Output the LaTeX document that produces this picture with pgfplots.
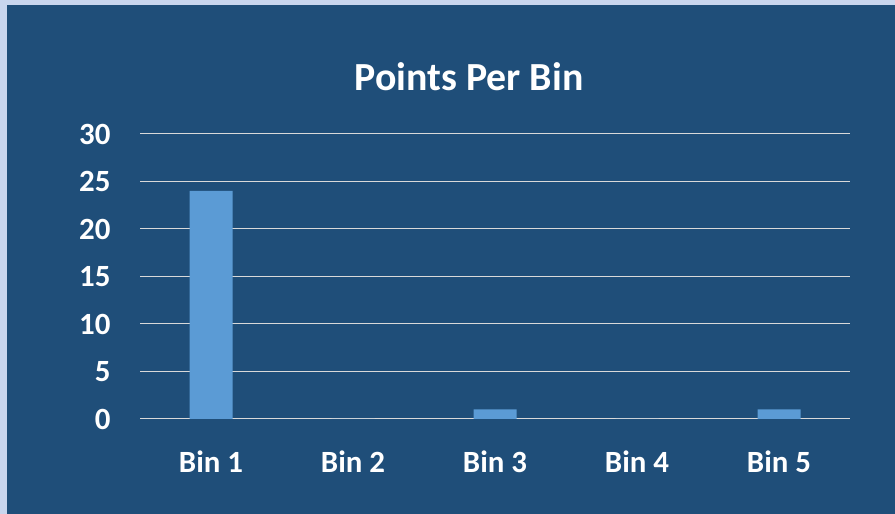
\documentclass[border=0pt]{standalone}
\usepackage{pgfplots}
\pgfplotsset{compat=1.18}
\usepackage{fontspec}
\setmainfont{Carlito}
\definecolor{bg}{HTML}{1F4E79}
\definecolor{frame}{HTML}{C9D6EE}
\definecolor{bar}{HTML}{5B9BD5}
\definecolor{gridc}{HTML}{D9D9D9}
\begin{document}
\begin{tikzpicture}[x=1bp,y=1bp]
\useasboundingbox (0,0) rectangle (895,514);
\fill[frame] (0,0) rectangle (895,514);
\fill[bg] (7,0) rectangle (895,509);
\node[text=white,font=\fontsize{40}{44}\selectfont\bfseries] at (469,437) {Points Per Bin};
\begin{axis}[
  at={(140bp,95bp)}, anchor=south west,
  scale only axis, width=710bp, height=285bp,
  xmin=-0.5, xmax=4.5, ymin=0, ymax=30,
  ytick={0,5,...,30},
  xtick={0,1,2,3,4},
  xticklabels={Bin 1,Bin 2,Bin 3,Bin 4,Bin 5},
  axis line style={draw=none},
  major tick length=0pt,
  ymajorgrids, grid style={gridc, line width=1bp},
  tick label style={text=white, font=\fontsize{31}{33}\selectfont\bfseries},
  /pgf/number format/assume math mode=true,
  yticklabel style={xshift=-26bp},
  xticklabel style={yshift=-28bp},
  clip=false,
]
\addplot[ybar, bar width=43bp, fill=bar, draw=none] coordinates {(0,24) (1,0) (2,1) (3,0) (4,1)};
\end{axis}
\end{tikzpicture}
\end{document}
